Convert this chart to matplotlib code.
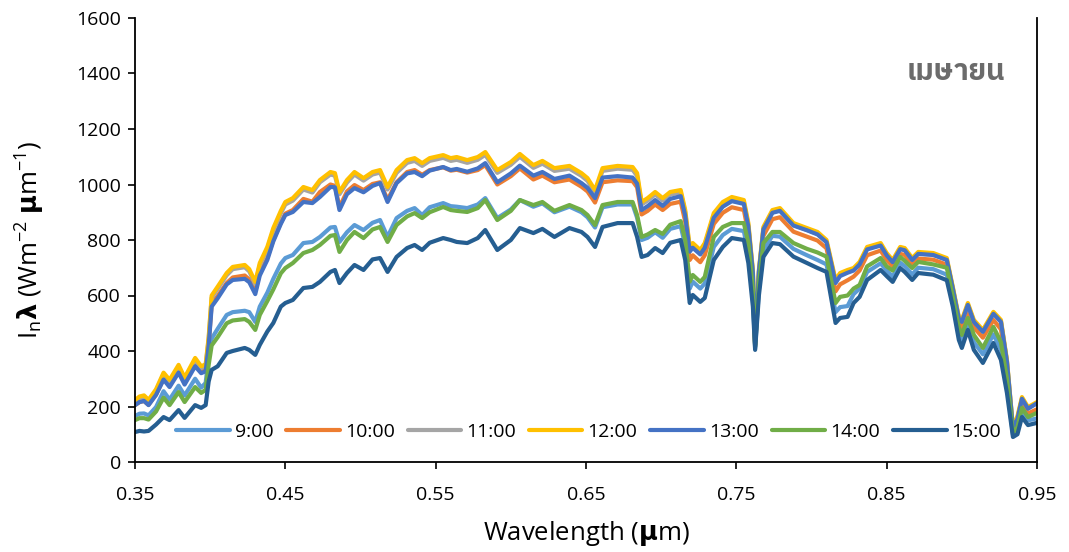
import matplotlib
matplotlib.use("Agg")
import matplotlib.pyplot as plt
from matplotlib import font_manager
from matplotlib.ft2font import FT2Font

# ---------------- data ----------------
wavelength = [0.350, 0.353, 0.356, 0.359, 0.364, 0.369, 0.373, 0.379, 0.383, 0.390,
              0.394, 0.397, 0.399, 0.401, 0.405, 0.411, 0.415, 0.423, 0.426, 0.430,
              0.433, 0.438, 0.442, 0.447, 0.450, 0.455, 0.462, 0.468, 0.473, 0.480,
              0.483, 0.486, 0.491, 0.496, 0.502, 0.508, 0.513, 0.518, 0.524, 0.531,
              0.536, 0.541, 0.546, 0.555, 0.560, 0.564, 0.571, 0.578, 0.583, 0.591,
              0.600, 0.606, 0.615, 0.621, 0.629, 0.639, 0.647, 0.651, 0.656, 0.661,
              0.671, 0.681, 0.684, 0.687, 0.691, 0.696, 0.701, 0.706, 0.713, 0.716,
              0.719, 0.721, 0.726, 0.729, 0.735, 0.741, 0.747, 0.755, 0.758, 0.761,
              0.7625, 0.765, 0.768, 0.774, 0.779, 0.788, 0.797, 0.804, 0.810, 0.816,
              0.819, 0.824, 0.828, 0.832, 0.837, 0.846, 0.850, 0.854, 0.859, 0.862,
              0.867, 0.871, 0.881, 0.890, 0.894, 0.898, 0.900, 0.904, 0.908, 0.914,
              0.921, 0.926, 0.930, 0.934, 0.937, 0.940, 0.944, 0.950]

t0900 = [166, 174, 175, 168, 198, 255, 225, 275, 240, 300,
         268, 285, 380, 445, 480, 530, 540, 545, 540, 505,
         560, 610, 660, 715, 735, 746, 789, 793, 811, 845,
         847, 793, 828, 854, 836, 862, 872, 811, 879, 905,
         915, 890, 918, 933, 922, 920, 915, 928, 951, 879,
         910, 944, 920, 932, 900, 920, 900, 882, 845, 918,
         928, 928, 880, 800, 808, 828, 808, 840, 850, 780,
         625, 650, 625, 643, 775, 818, 840, 832, 750, 590,
         410, 620, 765, 815, 812, 768, 745, 728, 712, 540,
         558, 562, 605, 625, 685, 716, 690, 668, 718, 706,
         676, 700, 695, 675, 578, 462, 436, 500, 432, 388,
         460, 405, 280, 98, 115, 180, 150, 157]

t1000 = [205, 216, 220, 206, 243, 300, 275, 328, 284, 352,
         325, 332, 425, 570, 598, 645, 665, 672, 658, 615,
         680, 735, 800, 862, 895, 908, 948, 938, 973, 1000,
         995, 918, 975, 998, 980, 1002, 1008, 945, 1008, 1045,
         1052, 1035, 1052, 1062, 1050, 1053, 1043, 1052, 1070, 1000,
         1030, 1058, 1018, 1032, 1008, 1018, 992, 975, 935, 1008,
         1015, 1012, 990, 892, 905, 928, 908, 930, 938, 866,
         728, 745, 720, 745, 858, 898, 918, 908, 825, 660,
         418, 668, 815, 875, 882, 830, 812, 798, 770, 615,
         640, 655, 668, 690, 745, 762, 728, 705, 750, 746,
         712, 733, 729, 711, 610, 500, 485, 548, 485, 448,
         512, 478, 340, 110, 140, 210, 175, 190]

t1100 = [219, 231, 235, 220, 257, 316, 290, 343, 298, 368,
         339, 346, 443, 592, 624, 673, 695, 702, 687, 641,
         709, 767, 834, 896, 928, 942, 982, 971, 1008, 1036,
         1032, 965, 1007, 1036, 1014, 1036, 1043, 982, 1042, 1078,
         1085, 1067, 1085, 1096, 1085, 1089, 1078, 1089, 1107, 1042,
         1071, 1100, 1060, 1075, 1049, 1057, 1031, 1013, 971, 1049,
         1057, 1053, 1031, 928, 942, 964, 942, 964, 971, 900,
         768, 782, 757, 782, 889, 929, 947, 936, 853, 686,
         423, 686, 840, 900, 907, 854, 836, 822, 793, 650,
         675, 686, 693, 715, 769, 783, 747, 722, 769, 765,
         729, 751, 747, 729, 626, 518, 507, 568, 507, 471,
         536, 507, 364, 123, 160, 229, 194, 212]

t1200 = [223, 236, 240, 224, 262, 322, 296, 350, 304, 375,
         345, 352, 450, 600, 632, 681, 703, 710, 695, 649,
         717, 775, 843, 905, 937, 951, 991, 980, 1016, 1045,
         1041, 973, 1016, 1045, 1023, 1045, 1052, 991, 1052, 1088,
         1095, 1077, 1095, 1106, 1095, 1099, 1088, 1099, 1117, 1052,
         1081, 1110, 1070, 1085, 1059, 1067, 1041, 1023, 980, 1059,
         1067, 1063, 1041, 937, 951, 973, 951, 973, 980, 908,
         775, 789, 764, 789, 897, 937, 955, 944, 861, 692,
         425, 692, 847, 908, 915, 861, 843, 829, 800, 656,
         681, 692, 699, 721, 775, 789, 753, 728, 775, 771,
         735, 757, 753, 735, 631, 523, 512, 573, 512, 476,
         541, 512, 368, 125, 165, 234, 198, 216]

t1300 = [205, 216, 220, 205, 242, 297, 270, 322, 279, 345,
         320, 327, 420, 560, 590, 640, 656, 660, 648, 605,
         672, 728, 795, 858, 890, 901, 937, 933, 955, 991,
         990, 908, 965, 987, 972, 995, 1005, 937, 1005, 1040,
         1045, 1030, 1050, 1063, 1052, 1056, 1046, 1058, 1077, 1008,
         1040, 1068, 1032, 1045, 1020, 1032, 1005, 988, 951, 1025,
         1030, 1025, 1003, 908, 922, 944, 923, 948, 958, 888,
         758, 772, 748, 772, 880, 920, 940, 930, 848, 682,
         422, 685, 838, 898, 905, 852, 835, 820, 792, 645,
         670, 682, 690, 712, 766, 780, 745, 720, 767, 763,
         728, 750, 746, 728, 625, 517, 505, 566, 505, 469,
         534, 505, 362, 120, 155, 228, 192, 212]

t1400 = [151, 158, 158, 153, 182, 232, 205, 252, 216, 270,
         249, 260, 350, 420, 450, 500, 510, 515, 505, 476,
         530, 580, 622, 680, 699, 717, 753, 764, 782, 815,
         818, 757, 800, 829, 807, 838, 847, 793, 854, 885,
         897, 879, 900, 919, 908, 905, 901, 915, 944, 872,
         905, 944, 926, 937, 905, 926, 908, 890, 854, 926,
         937, 937, 890, 811, 820, 836, 822, 855, 868, 800,
         650, 674, 649, 667, 811, 847, 861, 861, 789, 620,
         415, 640, 789, 829, 829, 789, 768, 755, 740, 573,
         595, 600, 625, 638, 705, 735, 705, 690, 739, 725,
         699, 721, 712, 700, 595, 485, 458, 519, 458, 411,
         487, 432, 300, 105, 125, 195, 162, 177]

t1500 = [108, 112, 110, 112, 135, 162, 151, 187, 159, 205,
         195, 205, 290, 332, 345, 393, 400, 411, 404, 386,
         422, 470, 501, 560, 573, 584, 627, 631, 649, 685,
         692, 645, 681, 710, 692, 730, 735, 685, 739, 771,
         782, 764, 790, 807, 800, 793, 789, 807, 836, 764,
         800, 843, 825, 840, 811, 843, 829, 811, 775, 847,
         861, 861, 811, 739, 746, 771, 753, 790, 800, 728,
         573, 602, 577, 591, 728, 775, 807, 800, 717, 560,
         404, 600, 739, 789, 785, 740, 717, 699, 685, 501,
         519, 523, 573, 595, 656, 692, 670, 649, 699, 685,
         656, 681, 675, 655, 560, 440, 411, 476, 404, 357,
         429, 368, 249, 90, 100, 162, 133, 141]

series_labels = ["9:00", "10:00", "11:00", "12:00", "13:00", "14:00", "15:00"]
series_values = [t0900, t1000, t1100, t1200, t1300, t1400, t1500]
series_colors = ["#5B9BD5", "#ED7D31", "#A5A5A5", "#FFC000", "#4472C4", "#70AD47", "#255E91"]

x_ticks = [0.35, 0.45, 0.55, 0.65, 0.75, 0.85, 0.95]
y_ticks = [0, 200, 400, 600, 800, 1000, 1200, 1400, 1600]
month_label = "เมษายน"

# ---------------- fonts ----------------
base_font = "Open Sans"
thai_font = None
for fe in font_manager.fontManager.ttflist:
    try:
        cm = FT2Font(fe.fname).get_charmap()
    except Exception:
        continue
    if 0x0E40 in cm and 0x0E29 in cm:
        if thai_font is None or "Thai" in fe.name:
            thai_font = fe.name
            if "Thai" in fe.name:
                break
if thai_font is None:
    thai_font = "DejaVu Sans"

plt.rcParams["font.family"] = [base_font, "DejaVu Sans"]
plt.rcParams["mathtext.fontset"] = "custom"
plt.rcParams["mathtext.rm"] = base_font
plt.rcParams["mathtext.it"] = base_font + ":italic"
plt.rcParams["mathtext.bf"] = "DejaVu Sans:bold"

# ---------------- figure ----------------
fig = plt.figure(figsize=(10.69, 5.52), dpi=100)
ax = fig.add_axes([135 / 1069, 1 - 462 / 552, (1037 - 135) / 1069, (462 - 18) / 552])

for lab, vals, col in zip(series_labels, series_values, series_colors):
    ax.plot(wavelength, vals, color=col, lw=3.0, label=lab,
            solid_joinstyle="round", solid_capstyle="round")

ax.set_xlim(0.35, 0.95)
ax.set_ylim(0, 1600)
ax.set_xticks(x_ticks)
ax.set_xticklabels([f"{v:.2f}" for v in x_ticks])
ax.set_yticks(y_ticks)
ax.tick_params(axis="both", direction="out", length=5, width=1.2, labelsize=14,
               colors="black")
ax.tick_params(axis="x", pad=12)
ax.tick_params(axis="y", pad=5)
for side in ["left", "bottom", "right"]:
    ax.spines[side].set_linewidth(1.3)
    ax.spines[side].set_color("black")
ax.spines["top"].set_visible(False)

ax.set_xlabel(r"Wavelength ($\mathbf{\mu}$m)", fontsize=18.5, labelpad=11)
ax.set_ylabel(r"I$_{\mathrm{n}}$$\mathbf{\lambda}$ (Wm$^{-2}$ $\mathbf{\mu}$m$^{-1}$)",
              fontsize=18.5, labelpad=21)

ax.text(0.965, 0.878, month_label, transform=ax.transAxes, ha="right", va="center",
        fontsize=21, fontweight="bold", color="#6b6b6b",
        family=[thai_font, "DejaVu Sans"])

leg = ax.legend(loc="center", bbox_to_anchor=(0.503, 0.0676), ncol=7, frameon=False,
                fontsize=14, handlelength=2.75, handletextpad=0.26, columnspacing=0.67)

fig.savefig("out.png", dpi=100, facecolor="white")
